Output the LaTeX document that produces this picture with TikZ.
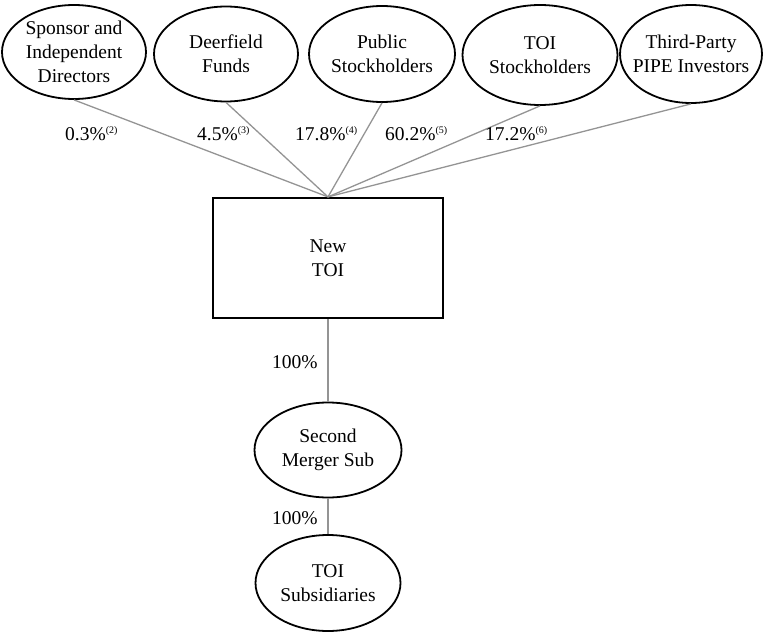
\documentclass[tikz,border=0pt]{standalone}
\usepackage{fontspec}
\setmainfont{Liberation Serif}
\usetikzlibrary{shapes.geometric}
\newcommand\supnote[1]{\raisebox{6.5pt}{\fontsize{10}{10}\selectfont #1}}
\begin{document}
\begin{tikzpicture}[x=1pt,y=1pt,
  oval/.style={ellipse, draw=black, line width=1.8pt, inner sep=0pt},
  txt/.style={align=center, font=\fontsize{19.5}{24}\selectfont, inner sep=0pt},
  pct/.style={anchor=base west, font=\fontsize{19.5}{24}\selectfont, inner sep=0pt},
  conn/.style={draw=black!42, line width=1.3pt},
  boxnode/.style={rectangle, draw=black, line width=2.2pt, minimum width=230pt, minimum height=120pt, inner sep=0pt}]
\useasboundingbox (0,0) rectangle (766,-634);
% top owners
\node[oval, minimum width=144pt, minimum height=94pt] (sp) at (74,-52) {};
\node[txt] at (sp) {Sponsor and\\Independent\\Directors};
\node[oval, minimum width=144pt, minimum height=95pt] (df) at (226,-54) {};
\node[txt] at (df) {Deerfield\\Funds};
\node[oval, minimum width=146pt, minimum height=96pt] (pb) at (382,-54) {};
\node[txt] at (pb) {Public\\Stockholders};
\node[oval, minimum width=155pt, minimum height=100pt] (ts) at (540,-55) {};
\node[txt] at (ts) {TOI\\Stockholders};
\node[oval, minimum width=142pt, minimum height=98pt] (tp) at (691,-54) {};
\node[txt] at (tp) {Third-Party\\PIPE Investors};
% central box
\node[boxnode] (nt) at (328,-258) {};
\node[txt] at (nt) {New\\TOI};
% lower entities
\node[oval, minimum width=147pt, minimum height=95pt] (sm) at (328,-450) {};
\node[txt] at (sm) {Second\\Merger Sub};
\node[oval, minimum width=145pt, minimum height=96pt] (sb) at (328,-583) {};
\node[txt] at (sb) {TOI\\Subsidiaries};
% connectors
\draw[conn] (sp.south) -- (nt.north);
\draw[conn] (df.south) -- (nt.north);
\draw[conn] (pb.south) -- (nt.north);
\draw[conn] (ts.south) -- (nt.north);
\draw[conn] (tp.south) -- (nt.north);
\draw[conn] (nt.south) -- (sm.north);
\draw[conn] (sm.south) -- (sb.north);
% percentages
\node[pct] (p1) at (65,-140) {0.3\%\supnote{(2)}};
\node[pct] (p2) at (197,-140) {4.5\%\supnote{(3)}};
\node[pct] (p3) at (295,-140) {17.8\%\supnote{(4)}};
\node[pct] (p4) at (385,-140) {60.2\%\supnote{(5)}};
\node[pct] (p5) at (485,-140) {17.2\%\supnote{(6)}};
\node[pct] (q1) at (272,-368) {100\%};
\node[pct] (q2) at (272,-524) {100\%};
\end{tikzpicture}
\end{document}
